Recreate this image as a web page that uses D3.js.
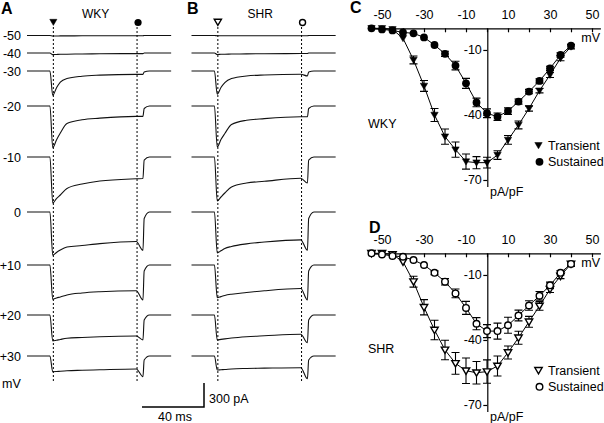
<!DOCTYPE html>
<html>
<head>
<meta charset="utf-8">
<style>
  body { margin: 0; background: #fff; }
  text { font-family: "Liberation Sans", Arial, sans-serif; fill: #000; }
</style>
</head>
<body>
<svg id="canvas" width="604" height="423"></svg>
<script src="https://d3js.org/d3.v7.min.js"></script>
<script>

// ---- current traces (panels A, B) ----
var stepLabels = ['-50', '-40', '-30', '-20', '-10', '0', '+10', '+20', '+30'];
// times (ms from trace start) at which each trace was read
var keyTimes = [0, 14.8, 16.6, 19, 21.5, 25.8, 35.5, 47, 70.5, 74.8, 75.6, 79, 93];
// current (pA) at keyTimes, one row per step
var wkyTraces = [
  [0, 0, -6, -6, -5, -5, -4, -4, -3, -3, 0, 0, 0],
  [0, 0, -20, -18, -16, -15, -12, -10, -8, -8, 0, 0, 0],
  [0, 0, -304, -212, -138, -94, -65, -52, -42, -42, -12, 0, 0],
  [0, 0, -520, -425, -338, -219, -172, -152, -130, -130, -31, 0, 0],
  [0, 0, -575, -519, -475, -394, -338, -300, -272, -269, -38, 0, 0],
  [0, 0, -541, -506, -475, -438, -419, -395, -369, -479, -82, 0, 0],
  [0, 0, -429, -412, -400, -375, -350, -334, -321, -438, -75, 0, 0],
  [0, 0, -325, -316, -306, -291, -281, -271, -262, -312, -62, 0, 0],
  [0, 0, -196, -194, -190, -184, -178, -172, -162, -259, -50, 0, 0]
];
var shrTraces = [
  [0, 0, -4, -4, -4, -4, -3, -3, -3, -3, 0, 0, 0],
  [0, 0, -18, -16, -15, -13, -11, -9, -7, -7, 0, 0, 0],
  [0, 0, -291, -206, -144, -94, -62, -50, -41, -62, -12, 0, 0],
  [0, 0, -512, -419, -344, -231, -178, -158, -135, -135, -31, 0, 0],
  [0, 0, -550, -500, -450, -375, -325, -304, -265, -325, -38, 0, 0],
  [0, 0, -512, -485, -456, -431, -398, -375, -348, -479, -82, 0, 0],
  [0, 0, -409, -395, -381, -365, -344, -322, -294, -438, -75, 0, 0],
  [0, 0, -312, -305, -298, -288, -272, -260, -240, -346, -62, 0, 0],
  [0, 0, -175, -172, -169, -162, -156, -152, -146, -284, -50, 0, 0]
];
var transientTime = 17, sustainedTime = 71;   // ms, dashed lines
var barTime = 40, barCurrent = 300;           // scale bar

// ---- I-V curves (panels C, D) ----
var ivVoltages = [-55, -50, -45, -40, -35, -30, -25, -20, -15, -10, -5, 0, 5, 10, 15, 20, 25, 30, 35, 40];
var wkyTransient    = [0, 0, -0.5, -4.6, -14.6, -26.6, -40, -50, -56, -61.5, -62, -62, -58.5, -51.5, -44.6, -37, -28.8, -21.5, -13.8, -8.5];
var wkyTransientErr = [0, 0, 0.3, 0.8, 1.8, 2.5, 3, 3.5, 3.5, 3.5, 2.8, 2.5, 2, 2, 1.8, 1.2, 1, 1.2, 1.2, 1];
var wkySustained    = [0, -0.5, -1, -1.9, -2.3, -4.2, -7.7, -11.8, -17.2, -25.4, -34.2, -39.2, -40.8, -38.2, -33.8, -29.2, -24.3, -18.5, -12.3, -8];
var wkySustainedErr = [0, 0, 0.2, 0.3, 0.4, 0.5, 0.8, 1.2, 2, 2.3, 2, 2, 1.7, 1.5, 1.2, 1, 1, 1, 1, 0.8];
var shrTransient    = [0, 0, -0.5, -3.9, -13.1, -24.9, -35.4, -44.6, -50.8, -54.2, -55.1, -54.6, -52, -45.8, -39, -31.6, -24.3, -16.6, -10.5, -4.9];
var shrTransientErr = [0, 0, 0.3, 0.8, 2.5, 3.5, 4.5, 4.5, 5, 5.9, 5.2, 5.4, 4.6, 3, 3, 2.5, 2, 1.5, 1.2, 1];
var shrSustained    = [0, -0.5, -1.2, -1.6, -3.1, -5.4, -9, -13.1, -18.5, -25.2, -32.5, -35.9, -35.9, -33.2, -28.7, -24.1, -19.6, -14.8, -9, -4.9];
var shrSustainedErr = [0, 0.2, 0.3, 0.4, 0.5, 0.7, 0.9, 1.5, 2, 3, 2.8, 3, 3.7, 3.7, 2.5, 2.2, 2, 1.5, 1, 1];
var xTicks = [-50, -40, -30, -20, -10, 0, 10, 20, 30, 40, 50];
var xTickLabels = [-50, -30, -10, 10, 30, 50];
var yTicks = [-10, -40, -70];

// layout
var traceRowY = [35.5, 53, 71, 106, 157, 212, 265, 315, 356];
var svg = d3.select('#canvas');

function downTri(cx, cy, r) {
  return 'M' + (cx - r) + ',' + (cy - r * 0.75) + 'L' + (cx + r) + ',' + (cy - r * 0.75) +
    'L' + cx + ',' + (cy + r * 0.95) + 'Z';
}

function drawTraces(rows, x0, name, open) {
  var x = d3.scaleLinear().domain([0, 93]).range([x0, x0 + 93 * 1.55]);
  var g = svg.append('g');
  var line = d3.line().curve(d3.curveMonotoneX);

  rows.forEach(function(vals, i) {
    var y = d3.scaleLinear().domain([0, -300]).range([traceRowY[i], traceRowY[i] + 24]);
    g.append('path')
      .attr('d', line(keyTimes.map(function(t, j) { return [x(t), y(vals[j])]; })))
      .attr('fill', 'none')
      .attr('stroke', '#111')
      .attr('stroke-width', 1.1);
  });

  [transientTime, sustainedTime].forEach(function(t) {
    g.append('line')
      .attr('x1', x(t)).attr('x2', x(t))
      .attr('y1', 27).attr('y2', 381)
      .attr('stroke', '#000')
      .attr('stroke-width', 1)
      .attr('stroke-dasharray', '2,2');
  });

  g.append('path')
    .attr('d', downTri(x(transientTime), 22, 3.6))
    .attr('fill', open ? '#fff' : '#000')
    .attr('stroke', '#000')
    .attr('stroke-width', open ? 1.4 : 0.5);
  g.append('circle')
    .attr('cx', x(sustainedTime) + 1).attr('cy', 22.5).attr('r', open ? 3 : 3.6)
    .attr('fill', open ? '#fff' : '#000')
    .attr('stroke', '#000')
    .attr('stroke-width', open ? 1.4 : 0);

  g.append('text')
    .attr('x', (x(transientTime) + x(sustainedTime)) / 2 + 0.5)
    .attr('y', 18)
    .attr('text-anchor', 'middle')
    .attr('font-size', 12)
    .text(name);
  return x;
}

var xa = drawTraces(wkyTraces, 27, 'WKY', false);
drawTraces(shrTraces, 191.5, 'SHR', true);

// step labels
svg.append('g').selectAll('text')
  .data(stepLabels)
  .enter().append('text')
  .attr('x', 21)
  .attr('y', function(d, i) { return traceRowY[i] + 4.5; })
  .attr('text-anchor', 'end')
  .attr('font-size', 12.5)
  .text(function(d) { return d; });

svg.append('text').attr('x', 2).attr('y', 388).attr('font-size', 12.5).text('mV');

// scale bar
var barRight = 204, barBottom = 407;
var barW = xa(barTime) - xa(0), barH = 24 * barCurrent / 300;
svg.append('path')
  .attr('d', 'M' + (barRight - barW) + ',' + barBottom + 'H' + barRight + 'V' + (barBottom - barH))
  .attr('fill', 'none')
  .attr('stroke', '#000')
  .attr('stroke-width', 1.5);
svg.append('text').attr('x', 209).attr('y', 402.5).attr('font-size', 12.5).text(barCurrent + ' pA');
svg.append('text').attr('x', barRight - barW / 2 + 2).attr('y', 420.5).attr('text-anchor', 'middle')
  .attr('font-size', 12.5).text(barTime + ' ms');

// panel letters
[['A', 1, 14], ['B', 187, 14], ['C', 350, 13], ['D', 369, 232.5]].forEach(function(p) {
  svg.append('text').attr('x', p[1]).attr('y', p[2])
    .attr('font-size', 16).attr('font-weight', 'bold').text(p[0]);
});

// ---- I-V panels ----
var xIV = d3.scaleLinear().domain([-56, 54]).range([487 - 56 * 2.1, 487 + 54 * 2.1]);

function drawIV(top, trans, transErr, sust, sustErr, open, name) {
  var y = d3.scaleLinear().domain([0, -73]).range([top, top + 73 * 2.167]);
  var g = svg.append('g');

  g.append('g')
    .attr('transform', 'translate(0,' + top + ')')
    .call(d3.axisTop(xIV).tickValues(xTicks).tickSizeInner(-4).tickSizeOuter(0).tickPadding(9)
      .tickFormat(function(d) { return xTickLabels.indexOf(d) >= 0 ? String(d) : ''; }))
    .call(function(a) {
      a.attr('font-size', 12.5).attr('font-family', '"Liberation Sans", Arial, sans-serif');
      a.selectAll('path, line').attr('stroke-width', 1.2);
    });

  g.append('g')
    .attr('transform', 'translate(487.3,0)')
    .call(d3.axisLeft(y).tickValues(yTicks).tickSizeInner(4).tickSizeOuter(0).tickPadding(1.5)
      .tickFormat(function(d) { return String(d); }))
    .call(function(a) {
      a.attr('font-size', 12.5).attr('font-family', '"Liberation Sans", Arial, sans-serif');
      a.selectAll('path, line').attr('stroke-width', 1.2);
    });

  g.append('text').attr('x', 600).attr('y', top + 13.5).attr('text-anchor', 'end')
    .attr('font-size', 12.5).text('mV');
  g.append('text').attr('x', 490).attr('y', top + 168).attr('font-size', 12.5).text('pA/pF');
  g.append('text').attr('x', 368).attr('y', top + 100).attr('font-size', 12.5).text(name);

  var line = d3.line()
    .x(function(d, i) { return xIV(ivVoltages[i]); })
    .y(function(d) { return y(d); });

  [[trans, transErr], [sust, sustErr]].forEach(function(s) {
    g.append('path').attr('d', line(s[0]))
      .attr('fill', 'none').attr('stroke', '#000').attr('stroke-width', 1);
    var eb = g.append('g');
    s[0].forEach(function(v, i) {
      var e = s[1][i];
      if (e < 0.9) return;
      var cx = xIV(ivVoltages[i]);
      eb.append('path')
        .attr('d', 'M' + (cx - 4) + ',' + y(v - e) + 'H' + (cx + 4) +
          'M' + cx + ',' + y(v - e) + 'V' + y(v + e) +
          'M' + (cx - 4) + ',' + y(v + e) + 'H' + (cx + 4))
        .attr('fill', 'none').attr('stroke', '#000').attr('stroke-width', 1.1);
    });
  });

  var fill = open ? '#fff' : '#000';
  var sw = open ? 1.4 : 0.5;
  g.append('g').selectAll('path')
    .data(trans)
    .enter().append('path')
    .attr('d', function(d, i) { return downTri(xIV(ivVoltages[i]), y(d), 3.7); })
    .attr('fill', fill).attr('stroke', '#000').attr('stroke-width', sw);
  g.append('g').selectAll('circle')
    .data(sust)
    .enter().append('circle')
    .attr('cx', function(d, i) { return xIV(ivVoltages[i]); })
    .attr('cy', function(d) { return y(d); })
    .attr('r', open ? 3.3 : 3.9)
    .attr('fill', fill).attr('stroke', '#000').attr('stroke-width', open ? 1.4 : 0);

  // legend
  g.append('path').attr('d', downTri(538.5, top + 117, 3.7))
    .attr('fill', fill).attr('stroke', '#000').attr('stroke-width', sw);
  g.append('circle').attr('cx', 539.5).attr('cy', top + 133.5).attr('r', open ? 3.3 : 3.9)
    .attr('fill', fill).attr('stroke', '#000').attr('stroke-width', open ? 1.4 : 0);
  g.append('text').attr('x', 548).attr('y', top + 121.5).attr('font-size', 12.5).text('Transient');
  g.append('text').attr('x', 548).attr('y', top + 138).attr('font-size', 12.5).text('Sustained');
}

drawIV(28.3, wkyTransient, wkyTransientErr, wkySustained, wkySustainedErr, false, 'WKY');
drawIV(253.3, shrTransient, shrTransientErr, shrSustained, shrSustainedErr, true, 'SHR');

</script>
</body>
</html>
